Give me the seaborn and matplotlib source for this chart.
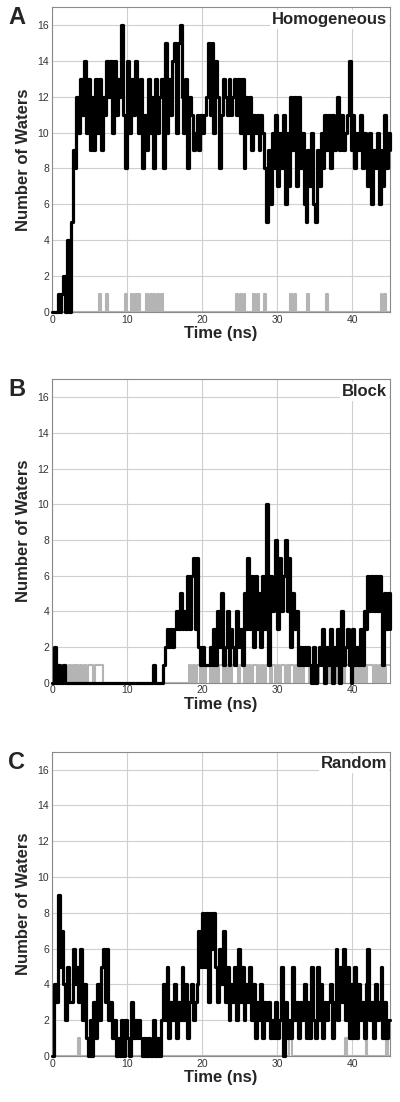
import numpy as np
import pandas as pd
import matplotlib
matplotlib.use("Agg")
import matplotlib.pyplot as plt
import seaborn as sns

# sampling step of the traces (ns)
DT = 0.25

# panel A - Homogeneous (black trace, 0-45 ns)
homog_black = [
    0, 0, 0, 1, 0, 1, 2, 0, 4, 0, 5, 9, 8, 12, 10, 13, 11, 14, 10, 13,
    9, 12, 9, 13, 10, 13, 9, 12, 11, 14, 12, 14, 10, 14, 11, 13, 12, 16, 11, 8,
    14, 10, 13, 11, 14, 12, 10, 13, 8, 11, 9, 13, 10, 12, 8, 13, 10, 12, 13, 8,
    15, 10, 13, 11, 14, 15, 10, 15, 16, 12, 10, 13, 8, 12, 11, 9, 10, 11, 9, 11,
    10, 11, 12, 15, 11, 15, 10, 14, 12, 8, 11, 13, 12, 11, 13, 11, 12, 13, 11, 13,
    10, 13, 8, 12, 10, 12, 9, 11, 10, 11, 9, 11, 10, 8, 5, 9, 6, 10, 8, 11,
    7, 10, 8, 11, 6, 10, 7, 12, 9, 12, 7, 12, 8, 10, 6, 5, 9, 7, 10, 6,
    5, 9, 7, 10, 8, 11, 9, 11, 8, 11, 9, 10, 12, 9, 11, 9, 10, 11, 14, 9,
    11, 8, 10, 9, 11, 8, 10, 9, 7, 10, 6, 9, 8, 10, 6, 9, 7, 11, 8, 10,
    9,
]
homog_gray = [
    0, 0, 0, 0, 0, 0, 0, 0, 0, 0, 0, 0, 0, 0, 0, 0, 0, 0, 0, 0,
    0, 0, 0, 0, 0, 1, 0, 0, 0, 1, 0, 0, 0, 0, 0, 0, 0, 0, 0, 1,
    0, 0, 1, 0, 1, 0, 1, 0, 0, 0, 1, 0, 1, 0, 1, 0, 1, 0, 1, 0,
    0, 0, 0, 0, 0, 0, 0, 0, 0, 0, 0, 0, 0, 0, 0, 0, 0, 0, 0, 0,
    0, 0, 0, 0, 0, 0, 0, 0, 0, 0, 0, 0, 0, 0, 0, 0, 0, 0, 1, 0,
    1, 0, 1, 0, 0, 0, 0, 1, 0, 1, 0, 0, 0, 1, 0, 0, 0, 0, 0, 0,
    0, 0, 0, 0, 0, 0, 0, 1, 0, 1, 0, 0, 0, 0, 0, 0, 1, 0, 0, 0,
    0, 0, 0, 0, 0, 0, 1, 0, 0, 0, 0, 0, 0, 0, 0, 0, 0, 0, 0, 0,
    0, 0, 0, 0, 0, 0, 0, 0, 0, 0, 0, 0, 0, 0, 0, 1, 0, 1, 0, 0,
    0,
]

# panel B - Block
block_black = [
    0, 2, 0, 1, 0, 0, 1, 0, 0, 0, 0, 0, 0, 0, 0, 0, 0, 0, 0, 0,
    0, 0, 0, 0, 0, 0, 0, 0, 0, 0, 0, 0, 0, 0, 0, 0, 0, 0, 0, 0,
    0, 0, 0, 0, 0, 0, 0, 0, 0, 0, 0, 0, 0, 0, 1, 0, 0, 0, 0, 1,
    2, 3, 2, 3, 2, 3, 4, 3, 5, 3, 4, 3, 6, 3, 6, 7, 3, 7, 2, 1,
    2, 1, 1, 1, 2, 1, 3, 1, 4, 2, 5, 1, 2, 4, 1, 3, 2, 1, 4, 2,
    3, 1, 5, 3, 7, 3, 6, 2, 6, 3, 5, 2, 6, 3, 10, 1, 6, 4, 5, 8,
    3, 7, 4, 6, 8, 4, 7, 2, 5, 3, 4, 1, 2, 1, 2, 1, 2, 1, 0, 2,
    0, 1, 2, 1, 3, 0, 2, 1, 3, 0, 2, 1, 3, 0, 4, 1, 2, 3, 1, 0,
    3, 1, 2, 1, 3, 1, 4, 3, 6, 4, 6, 4, 6, 4, 6, 4, 1, 5, 3, 5,
    3,
]
block_gray = [
    0, 1, 0, 1, 1, 1, 0, 1, 0, 1, 0, 1, 0, 1, 0, 1, 0, 1, 0, 1,
    1, 1, 0, 1, 1, 1, 1, 0, 0, 0, 0, 0, 0, 0, 0, 0, 0, 0, 0, 0,
    0, 0, 0, 0, 0, 0, 0, 0, 0, 0, 0, 0, 0, 0, 0, 0, 0, 0, 0, 0,
    0, 0, 0, 0, 0, 0, 0, 0, 0, 0, 0, 0, 0, 1, 0, 1, 0, 1, 1, 0,
    1, 0, 1, 1, 0, 1, 0, 1, 0, 1, 1, 0, 1, 0, 1, 0, 1, 1, 1, 0,
    1, 1, 0, 1, 0, 1, 0, 1, 1, 0, 1, 0, 1, 0, 1, 1, 0, 1, 1, 0,
    1, 0, 1, 1, 0, 1, 0, 1, 1, 0, 1, 0, 1, 0, 1, 1, 1, 0, 1, 0,
    1, 0, 1, 1, 1, 1, 0, 1, 0, 1, 1, 0, 1, 0, 1, 0, 1, 1, 1, 0,
    1, 0, 1, 0, 1, 0, 1, 0, 1, 1, 1, 0, 1, 0, 1, 0, 1, 0, 1, 1,
    1,
]

# panel C - Random
random_black = [
    0, 4, 3, 9, 5, 7, 4, 2, 5, 3, 3, 6, 4, 5, 3, 6, 2, 4, 1, 0,
    2, 0, 3, 1, 4, 2, 5, 6, 3, 6, 2, 3, 1, 2, 0, 1, 0, 2, 0, 2,
    1, 0, 3, 1, 2, 1, 2, 1, 0, 1, 0, 1, 0, 0, 2, 0, 1, 0, 2, 4,
    2, 5, 1, 3, 2, 4, 1, 3, 2, 5, 2, 4, 1, 3, 4, 2, 3, 4, 7, 5,
    8, 5, 8, 3, 8, 6, 8, 5, 3, 6, 4, 7, 3, 5, 2, 4, 3, 5, 2, 6,
    3, 5, 2, 4, 3, 5, 2, 4, 1, 3, 2, 4, 1, 3, 2, 3, 1, 2, 1, 3,
    1, 2, 5, 0, 3, 1, 2, 1, 5, 2, 3, 1, 3, 2, 4, 1, 3, 1, 5, 2,
    1, 5, 2, 4, 1, 3, 2, 3, 4, 1, 3, 6, 2, 5, 3, 6, 2, 5, 1, 4,
    1, 5, 1, 4, 2, 3, 1, 4, 6, 2, 3, 1, 4, 2, 3, 5, 1, 3, 1, 2,
    2,
]
random_gray = [
    0, 0, 0, 0, 0, 0, 0, 0, 0, 0, 0, 0, 0, 0, 1, 0, 0, 0, 0, 0,
    0, 0, 0, 0, 0, 0, 0, 0, 0, 0, 0, 0, 0, 0, 0, 0, 0, 0, 0, 0,
    0, 0, 0, 0, 0, 0, 0, 0, 0, 0, 0, 0, 0, 0, 0, 0, 0, 0, 0, 0,
    0, 0, 0, 0, 0, 0, 0, 0, 0, 0, 0, 0, 0, 0, 0, 0, 0, 0, 0, 0,
    0, 0, 0, 0, 0, 0, 0, 0, 0, 0, 0, 0, 0, 0, 0, 0, 0, 0, 0, 0,
    0, 0, 0, 0, 0, 0, 0, 0, 0, 0, 0, 0, 0, 0, 0, 0, 0, 0, 0, 0,
    0, 0, 0, 0, 0, 0, 1, 1, 0, 0, 0, 0, 0, 0, 0, 0, 0, 0, 0, 0,
    0, 0, 0, 0, 0, 0, 0, 0, 0, 0, 0, 0, 0, 0, 0, 0, 1, 0, 0, 0,
    0, 0, 0, 0, 0, 0, 0, 1, 0, 0, 0, 0, 0, 0, 0, 0, 0, 0, 1, 0,
    0,
]

panel_letters = ["A", "B", "C"]
panel_titles = ["Homogeneous", "Block", "Random"]
black_series = [homog_black, block_black, random_black]
gray_series = [homog_gray, block_gray, random_gray]
x_ticks = [0, 10, 20, 30, 40]
y_ticks = [0, 2, 4, 6, 8, 10, 12, 14, 16]

sns.set_style("whitegrid")
plt.rcParams['font.family'] = ['Liberation Sans', 'DejaVu Sans']

fig = plt.figure(figsize=(4.0, 11.02), dpi=100)

# axes rectangles (left, bottom, width, height) in figure fraction
axes_rects = [
    (0.130, 0.7169, 0.845, 0.2768),
    (0.130, 0.3805, 0.845, 0.2753),
    (0.130, 0.0417, 0.845, 0.2762),
]

for i in range(3):
    ax = fig.add_axes(axes_rects[i])
    n = len(black_series[i])
    df = pd.DataFrame({
        "time": np.arange(n) * DT,
        "black": black_series[i],
        "gray": gray_series[i],
    })

    sns.lineplot(data=df, x="time", y="gray", ax=ax, color="#b4b4b4",
                 drawstyle="steps-post", linewidth=1.5, errorbar=None,
                 zorder=2, clip_on=False)
    sns.lineplot(data=df, x="time", y="black", ax=ax, color="black",
                 drawstyle="steps-post", linewidth=2.3, errorbar=None,
                 zorder=3, clip_on=False)

    ax.set_xlim(0, 45)
    ax.set_ylim(0, 17)
    ax.set_xticks(x_ticks)
    ax.set_yticks(y_ticks)
    ax.tick_params(axis="both", length=0, labelsize=7.5, colors="#333333", pad=2)
    ax.grid(True, color="#cfcfcf", linewidth=0.8)
    for sp in ax.spines.values():
        sp.set_color("#8a8a8a")
        sp.set_linewidth(0.8)

    ax.set_xlabel("Time (ns)", fontsize=12, fontweight="bold", labelpad=1)
    ax.set_ylabel("Number of Waters", fontsize=12, fontweight="bold", labelpad=5)

    ax.text(0.992, 0.985, panel_titles[i], transform=ax.transAxes,
            ha="right", va="top", fontsize=12, fontweight="bold", zorder=5,
            bbox=dict(facecolor="white", edgecolor="none", pad=1.5))

    # panel letter left of the axes
    ax.text(-0.105, 0.965, panel_letters[i], transform=ax.transAxes,
            ha="center", va="center", fontsize=17, fontweight="bold")

fig.savefig("out.png", dpi=100)
